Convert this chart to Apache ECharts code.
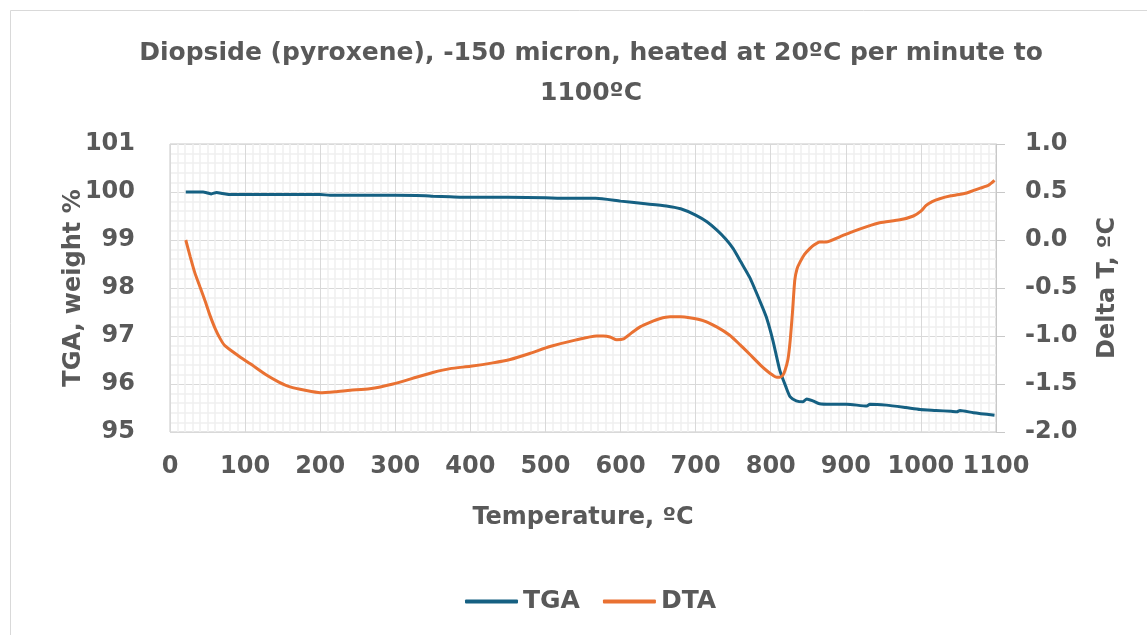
<!DOCTYPE html>
<html>
<head>
<meta charset="utf-8">
<script src="https://cdn.jsdelivr.net/npm/echarts@6/dist/echarts.min.js"></script>
<style>
html,body{margin:0;padding:0;background:#fff;}
#chart{width:1147px;height:635px;}
</style>
</head>
<body>
<div id="chart"></div>
<script>
const titleText = 'Diopside (pyroxene), -150 micron, heated at 20ºC per minute to\n1100ºC';
const xName = 'Temperature, ºC';
const yLeftName = 'TGA, weight %';
const yRightName = 'Delta T, ºC';

const tgaTemp = [21, 35, 44, 50, 55, 62, 70, 78, 100, 150, 200, 213, 250, 300, 340, 350, 373, 400, 450, 500, 520, 567, 600, 630, 661, 680, 700, 715, 728, 740, 750, 760, 772, 785, 794, 803, 812, 820, 826, 834, 843, 848, 856, 865, 880, 901, 928, 932, 954, 980, 999, 1020, 1040, 1048, 1052, 1070, 1098];
const tgaValues = [100.0, 100.0, 100.0, 99.98, 99.96, 99.99, 99.97, 99.95, 99.95, 99.95, 99.95, 99.93, 99.93, 99.93, 99.92, 99.91, 99.90, 99.89, 99.89, 99.88, 99.87, 99.87, 99.81, 99.76, 99.71, 99.65, 99.52, 99.38, 99.21, 99.02, 98.82, 98.55, 98.22, 97.75, 97.40, 96.90, 96.29, 95.95, 95.73, 95.65, 95.63, 95.69, 95.65, 95.59, 95.58, 95.58, 95.54, 95.58, 95.56, 95.51, 95.47, 95.45, 95.43, 95.42, 95.45, 95.40, 95.35];

const dtaTemp = [21, 27, 33, 40, 47, 53, 60, 67, 73, 90, 107, 129, 145, 160, 180, 200, 220, 240, 266, 297, 328, 350, 373, 400, 430, 453, 480, 506, 541, 568, 577, 586, 595, 604, 615, 626, 640, 652, 666, 680, 692, 710, 728, 745, 759, 772, 786, 796, 803, 808, 812, 816, 819, 823, 826, 829, 832, 835, 839, 845, 852, 858, 865, 874, 892, 910, 928, 945, 972, 990, 1000, 1007, 1015, 1025, 1040, 1061, 1079, 1090, 1098];
const dtaValues = [0.0, -0.175, -0.34, -0.49, -0.64, -0.78, -0.92, -1.03, -1.10, -1.20, -1.29, -1.41, -1.48, -1.53, -1.565, -1.59, -1.58, -1.565, -1.55, -1.50, -1.43, -1.38, -1.34, -1.315, -1.28, -1.245, -1.18, -1.11, -1.04, -1.00, -1.00, -1.01, -1.04, -1.03, -0.965, -0.905, -0.855, -0.82, -0.80, -0.80, -0.81, -0.84, -0.905, -0.99, -1.09, -1.19, -1.30, -1.37, -1.41, -1.43, -1.43, -1.41, -1.36, -1.24, -1.04, -0.75, -0.42, -0.30, -0.23, -0.15, -0.09, -0.05, -0.02, -0.02, 0.033, 0.09, 0.14, 0.18, 0.21, 0.25, 0.30, 0.36, 0.40, 0.43, 0.46, 0.49, 0.54, 0.57, 0.62];

const xTicks = [0, 100, 200, 300, 400, 500, 600, 700, 800, 900, 1000, 1100];
const leftTicks = [95, 96, 97, 98, 99, 100, 101];
const rightTicks = [-2.0, -1.5, -1.0, -0.5, 0.0, 0.5, 1.0];

const FONT = '"DejaVu Sans", sans-serif';
const TXT = '#595959';
const FS = 24;

const chart = echarts.init(document.getElementById('chart'));
chart.setOption({
  animation: false,
  backgroundColor: '#ffffff',
  graphic: [{
    type: 'rect', silent: true,
    shape: { x: 10.5, y: 10.5, width: 1200, height: 700 },
    style: { fill: 'none', stroke: '#d9d9d9', lineWidth: 1 }
  }],
  title: {
    text: titleText,
    left: 586, top: 28, textAlign: 'center',
    textStyle: { fontFamily: FONT, fontWeight: 'bold', fontSize: 25, color: TXT, lineHeight: 40 }
  },
  legend: {
    data: ['TGA', 'DTA'],
    left: 460, top: 584,
    icon: 'roundRect', itemWidth: 53, itemHeight: 4, itemGap: 23,
    textStyle: { fontFamily: FONT, fontWeight: 'bold', fontSize: 25, color: TXT }
  },
  grid: {
    left: 170, right: 151, top: 144, bottom: 203,
    show: true, borderColor: '#c8c8c8', borderWidth: 1
  },
  xAxis: {
    type: 'value', min: 0, max: 1100, interval: 100,
    name: xName, nameLocation: 'middle', nameGap: 74, nameMoveOverlap: false,
    nameTextStyle: { fontFamily: FONT, fontWeight: 'bold', fontSize: FS, color: TXT },
    axisLine: { show: false }, axisTick: { show: false },
    axisLabel: { margin: 23, fontFamily: FONT, fontWeight: 'bold', fontSize: FS, color: TXT,
      formatter: v => xTicks.indexOf(v) >= 0 ? String(v) : '' },
    splitLine: { show: true, lineStyle: { color: '#d9d9d9', width: 1 } },
    minorTick: { show: false, splitNumber: 10 },
    minorSplitLine: { show: true, lineStyle: { color: '#efefef', width: 1.5 } }
  },
  yAxis: [{
    type: 'value', min: 95, max: 101, interval: 1, position: 'left',
    name: yLeftName, nameLocation: 'middle', nameGap: 84, nameRotate: 90, nameMoveOverlap: false,
    nameTextStyle: { fontFamily: FONT, fontWeight: 'bold', fontSize: FS, color: TXT },
    axisLine: { show: false }, axisTick: { show: false },
    axisLabel: { margin: 35, fontFamily: FONT, fontWeight: 'bold', fontSize: FS, color: TXT,
      formatter: v => leftTicks.indexOf(v) >= 0 ? String(v) : '' },
    splitLine: { show: true, lineStyle: { color: '#d9d9d9', width: 1 } },
    minorTick: { show: false, splitNumber: 5 },
    minorSplitLine: { show: true, lineStyle: { color: '#efefef', width: 1.5 } }
  }, {
    type: 'value', min: -2, max: 1, interval: 0.5, position: 'right',
    name: yRightName, nameLocation: 'middle', nameGap: 100, nameRotate: 90, nameMoveOverlap: false,
    nameTextStyle: { fontFamily: FONT, fontWeight: 'bold', fontSize: FS, color: TXT },
    axisLine: { show: true, lineStyle: { color: '#c8c8c8' } },
    axisTick: { show: true, inside: false, length: 9, lineStyle: { color: '#c8c8c8' } },
    axisLabel: { margin: 29, fontFamily: FONT, fontWeight: 'bold', fontSize: FS, color: TXT,
      formatter: v => rightTicks.indexOf(v) >= 0 ? v.toFixed(1) : '' },
    splitLine: { show: false }
  }],
  series: [{
    name: 'TGA', type: 'line', yAxisIndex: 0, showSymbol: false, smooth: 0.2,
    lineStyle: { color: '#156082', width: 3 }, itemStyle: { color: '#156082' },
    data: tgaTemp.map((t, i) => [t, tgaValues[i]])
  }, {
    name: 'DTA', type: 'line', yAxisIndex: 1, showSymbol: false, smooth: 0.2,
    lineStyle: { color: '#E97132', width: 3 }, itemStyle: { color: '#E97132' },
    data: dtaTemp.map((t, i) => [t, dtaValues[i]])
  }]
});
</script>
</body>
</html>
